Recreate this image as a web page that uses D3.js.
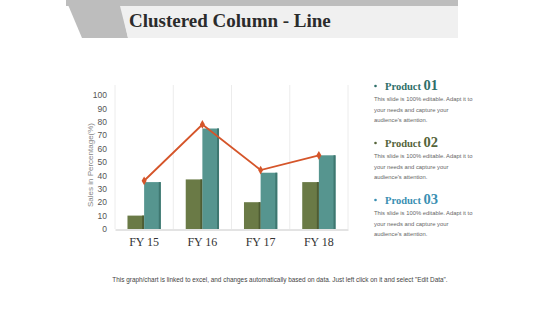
<!DOCTYPE html>
<html lang="en">
<head>
<meta charset="utf-8">
<title>Clustered Column - Line</title>
<script src="https://d3js.org/d3.v7.min.js"></script>
<style>
  body { margin: 0; background: #fff; }
  svg { display: block; }
</style>
</head>
<body>
<div id="chart"></div>
<script>
// ---------------- data ----------------
var years = ["FY 15", "FY 16", "FY 17", "FY 18"];
var product1 = [10, 37, 20, 35];   // olive bars
var product2 = [35, 75, 42, 55];   // teal bars
var product3 = [36, 78, 44, 55];   // orange line
var yTicks = [0, 10, 20, 30, 40, 50, 60, 70, 80, 90, 100];
var legendNames = ["01", "02", "03"];
var legendColors = ["#2f6f69", "#55643a", "#3a8fb2"];
var blurb = ["This slide is 100% editable. Adapt it to", "your needs and capture your", "audience's attention."];

var W = 560, H = 315;
var svg = d3.select("#chart").append("svg").attr("width", W).attr("height", H);

// ---------------- header ----------------
svg.append("rect").attr("x", 66).attr("y", 0).attr("width", 392).attr("height", 6).attr("fill", "#bdbdbd");
svg.append("path").attr("d", "M66,0 L120,0 L128,38 L82,38 Z").attr("fill", "#bdbdbd");
svg.append("path").attr("d", "M120,6 L458,6 L458,38 L128,38 Z").attr("fill", "#f0f0f0");
svg.append("text").attr("x", 129).attr("y", 27)
  .attr("font-family", "Liberation Serif, serif").attr("font-weight", "bold")
  .attr("font-size", 19).attr("fill", "#2b2b2b")
  .text("Clustered Column - Line");

// ---------------- scales ----------------
var x = d3.scaleBand().domain(years).range([115, 348]);
var xs = d3.scaleBand().domain([0, 1]).range([0, x.bandwidth()]).paddingOuter(0.75);
var y = d3.scaleLinear().domain([0, 100]).range([229, 95]);

// vertical light gridlines
var bounds = years.map(function (d) { return x(d); }).concat([x.range()[1]]);
svg.append("g").selectAll("line").data(bounds).enter().append("line")
  .attr("x1", function (d) { return d; }).attr("x2", function (d) { return d; })
  .attr("y1", 85).attr("y2", 229)
  .attr("stroke", "#ececec").attr("stroke-width", 1);

// y axis
var yAxis = svg.append("g").attr("transform", "translate(111,0)")
  .call(d3.axisLeft(y).tickValues(yTicks).tickSize(0).tickPadding(4));
yAxis.select(".domain").remove();
yAxis.selectAll("text").attr("font-family", "Liberation Sans, Arial, sans-serif")
  .attr("font-size", 8.5).attr("fill", "#555");

svg.append("text")
  .attr("transform", "translate(93,165) rotate(-90)")
  .attr("text-anchor", "middle")
  .attr("font-family", "Liberation Sans, Arial, sans-serif")
  .attr("font-size", 8).attr("fill", "#888")
  .text("Sales in Percentage(%)");

// x axis
var xAxis = svg.append("g").attr("transform", "translate(0,229.5)")
  .call(d3.axisBottom(x).tickSize(0).tickPadding(8));
xAxis.select(".domain").attr("stroke", "#c8c8c8");
xAxis.selectAll("text").attr("font-family", "Liberation Serif, serif")
  .attr("font-size", 12).attr("fill", "#333");

// ---------------- bars ----------------
var series = [
  { vals: product1, fill: "#6a7a46", shade: "#4e5c33" },
  { vals: product2, fill: "#56958f", shade: "#3e7770" }
];
series.forEach(function (s, si) {
  var g = svg.append("g");
  g.selectAll("rect.bar").data(s.vals).enter().append("rect").attr("class", "bar")
    .attr("x", function (d, i) { return x(years[i]) + xs(si); })
    .attr("y", function (d) { return y(d); })
    .attr("width", xs.bandwidth())
    .attr("height", function (d) { return y(0) - y(d); })
    .attr("fill", s.fill);
  g.selectAll("rect.shade").data(s.vals).enter().append("rect").attr("class", "shade")
    .attr("x", function (d, i) { return x(years[i]) + xs(si) + xs.bandwidth() - 2; })
    .attr("y", function (d) { return y(d); })
    .attr("width", 2)
    .attr("height", function (d) { return y(0) - y(d); })
    .attr("fill", s.shade);
});

// ---------------- line ----------------
var cx = function (d, i) { return x(years[i]) + x.bandwidth() / 2; };
var line = d3.line().x(cx).y(function (d) { return y(d); });
svg.append("path").datum(product3).attr("d", line)
  .attr("fill", "none").attr("stroke", "#d5552a").attr("stroke-width", 1.8);
svg.append("g").selectAll("path").data(product3).enter().append("path")
  .attr("transform", function (d, i) { return "translate(" + cx(d, i) + "," + y(d) + ")"; })
  .attr("d", d3.symbol().type(d3.symbolDiamond).size(22))
  .attr("fill", "#d5552a");

// ---------------- legend ----------------
legendNames.forEach(function (n, i) {
  var top = 86 + i * 57;
  var g = svg.append("g").attr("transform", "translate(0," + top + ")");
  g.append("circle").attr("cx", 375.5).attr("cy", 0).attr("r", 1.3).attr("fill", legendColors[i]);
  var t = g.append("text").attr("x", 385).attr("y", 4)
    .attr("font-family", "Liberation Serif, serif").attr("font-weight", "bold")
    .attr("fill", legendColors[i]);
  t.append("tspan").attr("font-size", 10.5).text("Product ");
  t.append("tspan").attr("font-size", 14.5).text(n);
  g.selectAll("text.desc").data(blurb).enter().append("text").attr("class", "desc")
    .attr("x", 374).attr("y", function (d, j) { return 15 + j * 10.5; })
    .attr("font-family", "Liberation Sans, Arial, sans-serif")
    .attr("font-size", 5.85).attr("fill", "#666")
    .text(function (d) { return d; });
});

// ---------------- footer ----------------
svg.append("text").attr("x", 280).attr("y", 282).attr("text-anchor", "middle")
  .attr("font-family", "Liberation Sans, Arial, sans-serif")
  .attr("font-size", 6.4).attr("fill", "#444")
  .text("This graph/chart is linked to excel, and changes automatically based on data. Just left click on it and select \"Edit Data\".");
</script>
</body>
</html>
